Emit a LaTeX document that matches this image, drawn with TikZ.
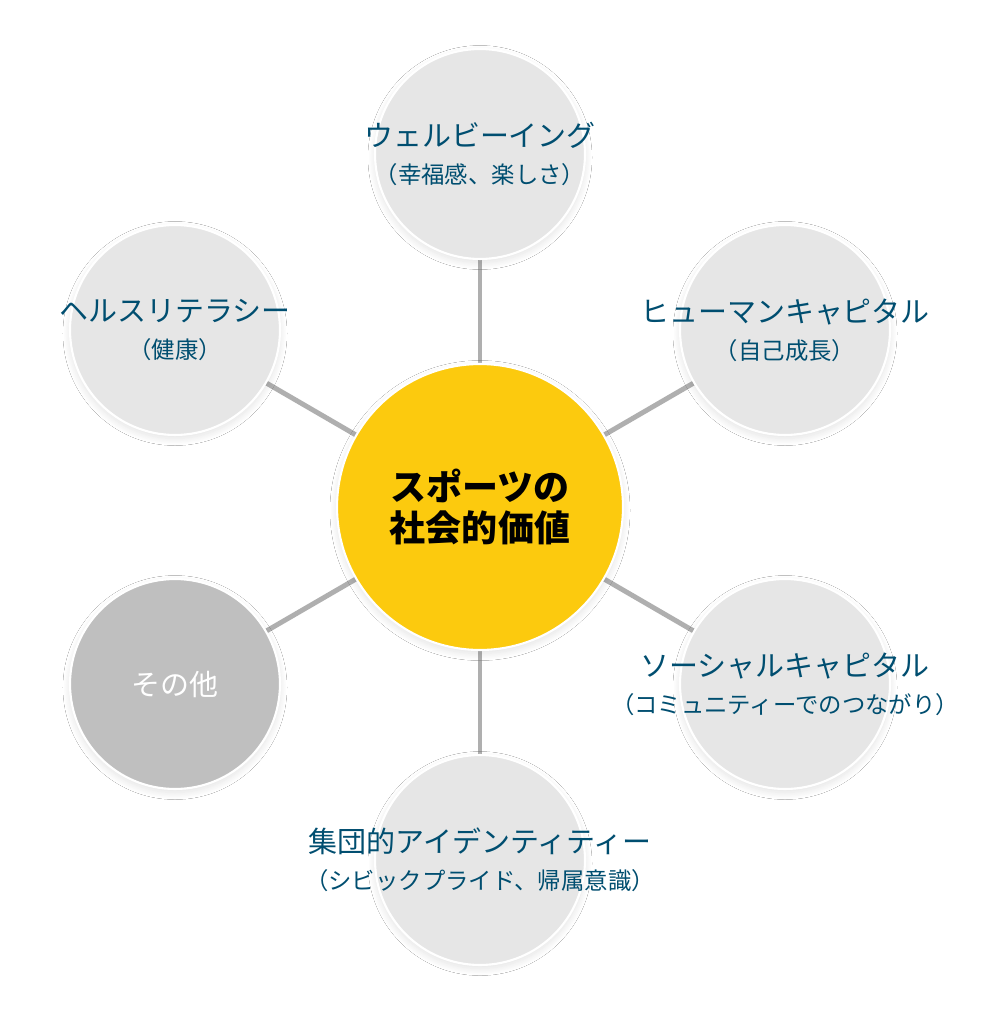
\documentclass[tikz,border=0pt]{standalone}
\usepackage{fontspec}
\setmainfont{Noto Sans CJK JP}
\usetikzlibrary{positioning,shadows.blur}
\definecolor{spyellow}{RGB}{252,202,14}
\definecolor{spgray}{RGB}{230,230,230}
\definecolor{spdark}{RGB}{191,191,191}
\definecolor{spline}{RGB}{175,175,175}
\definecolor{sptext}{RGB}{0,78,112}
\newcommand{\subline}{\fontsize{13.3}{21}\selectfont}

\begin{document}
\begin{tikzpicture}[x=0.02cm,y=-0.02cm,
    spoke/.style={circle,draw=white,line width=1.2pt,fill=spgray,
                  minimum size=4.2cm,inner sep=0pt,
                  blur shadow={shadow xshift=0pt,shadow yshift=-2pt,
                               shadow blur radius=4pt,
                               shadow blur steps=20,shadow opacity=12}},
    hub/.style={spoke,fill=spyellow,minimum size=5.72cm},
    link/.style={draw=spline,line width=2.8pt},
    lbl/.style={align=center,text=sptext,font=\fontsize{16.5}{21}\selectfont}]
    \useasboundingbox[fill=white] (0,0) rectangle (1000,1016);
    % centre and the six values round it
    \coordinate (c) at (480,507);
    \coordinate (pwb)  at (480,154);
    \coordinate (phc)  at (785,330);
    \coordinate (psc)  at (785,684);
    \coordinate (pid)  at (480,860);
    \coordinate (poth) at (175,684);
    \coordinate (phl)  at (175,330);
    \foreach \p in {pwb,phc,psc,pid,poth,phl}
      \draw[link] (c) -- (\p);
    \node[spoke] (wb)  at (pwb) {};
    \node[spoke] (hc)  at (phc) {};
    \node[spoke] (sc)  at (psc) {};
    \node[spoke] (id)  at (pid) {};
    \node[spoke,fill=spdark] (oth) at (poth) {};
    \node[spoke] (hl)  at (phl) {};
    \node[hub] (sport) at (c) {};
    % labels
    \node[text=black,align=center,font=\fontsize{20.5}{23.5}\selectfont\bfseries]
      (sporttxt) at (sport) {スポーツの\\社会的価値};
    \node[lbl] (wbtxt) at (wb) {ウェルビーイング\\{\subline（幸福感、楽しさ）}};
    \node[lbl] (hctxt) at (hc) {ヒューマンキャピタル\\{\subline（自己成長）}};
    \node[lbl] (sctxt) at (sc) {ソーシャルキャピタル\\{\subline（コミュニティーでのつながり）}};
    \node[lbl] (idtxt) at (id) {集団的アイデンティティー\\{\subline（シビックプライド、帰属意識）}};
    \node[lbl,text=white] (othtxt) at (oth) {その他};
    \node[lbl] (hltxt) at (hl) {ヘルスリテラシー\\{\subline（健康）}};
  \end{tikzpicture}
\end{document}
